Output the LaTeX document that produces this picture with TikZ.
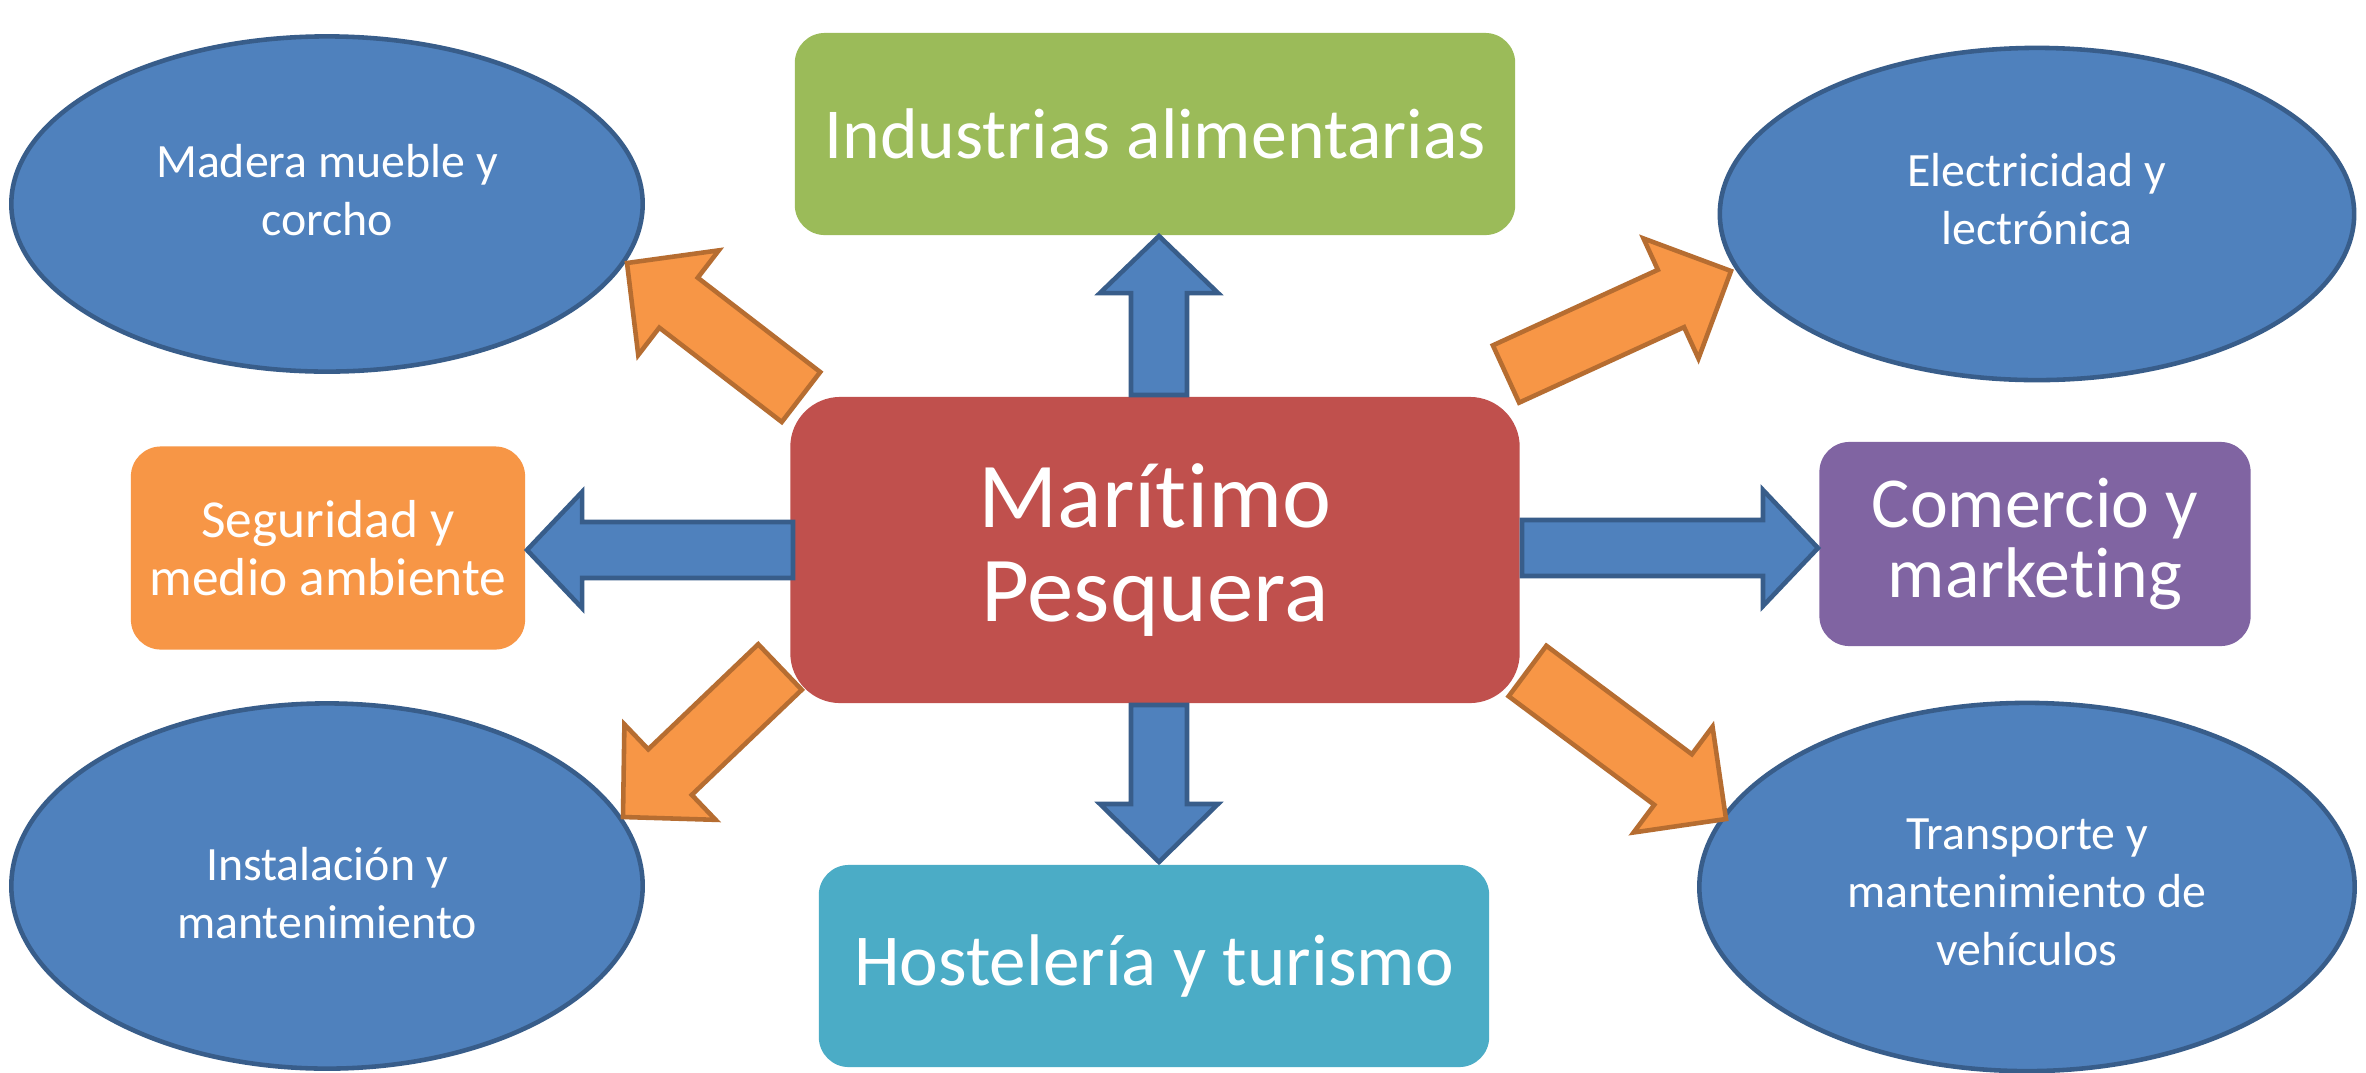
\documentclass[tikz,border=0pt]{standalone}
\usepackage{fontspec}
\setmainfont{Carlito}[Ligatures={NoCommon}]
\usetikzlibrary{shapes.geometric,calc}
\definecolor{eblue}{HTML}{4F81BD}
\definecolor{eblueline}{HTML}{385D8A}
\definecolor{oran}{HTML}{F79646}
\definecolor{oranline}{HTML}{B66D31}
\definecolor{cred}{HTML}{C0504D}
\definecolor{cgreen}{HTML}{9BBB59}
\definecolor{ccyan}{HTML}{4BACC6}
\definecolor{cpurple}{HTML}{8064A2}
% block arrow: style, tail, tip, shaft half width, head half width, head length
\newcommand{\blockarr}[6]{%
  \coordinate (bh) at ($(#3)!#6!(#2)$);
  \draw[#1] ($(#2)!#4!90:(#3)$) -- ($(bh)!#4!90:(#3)$) -- ($(bh)!#5!90:(#3)$) -- (#3)
    -- ($(bh)!#5!-90:(#3)$) -- ($(bh)!#4!-90:(#3)$) -- ($(#2)!#4!-90:(#3)$) -- cycle;
}
\begin{document}
\begin{tikzpicture}[x=0.01cm,y=-0.01cm,
  oval/.style={ellipse, draw=eblueline, fill=eblue, line width=1.3pt, inner sep=0pt},
  ovaltext/.style={text=white, align=center, inner sep=0pt, font=\fontsize{13.6}{16.5}\selectfont},
  rbox/.style={rectangle, rounded corners=0.3cm, inner sep=0pt, text=white, align=center},
  bluearr/.style={fill=eblue, draw=eblueline, line width=1.3pt, line join=miter},
  orarr/.style={fill=oran, draw=oranline, line width=1.3pt, line join=miter}]
\useasboundingbox (0,0) rectangle (2366,1072);
\fill[white] (0,0) rectangle (2366,1072);

% ellipses
\node[oval, minimum width=6.31cm, minimum height=3.35cm] (madera) at (327,204) {};
\node[ovaltext] (maderaT) at (327,190) {Madera mueble y\\corcho};
\node[oval, minimum width=6.34cm, minimum height=3.32cm] (elec) at (2037,214) {};
\node[ovaltext] (elecT) at (2037,199) {Electricidad y\\lectrónica};
\node[oval, minimum width=6.31cm, minimum height=3.65cm] (inst) at (327,886) {};
\node[ovaltext] (instT) at (327,893) {Instalación y\\mantenimiento};
\node[oval, minimum width=6.55cm, minimum height=3.68cm] (trans) at (2027,887) {};
\node[ovaltext] (transT) at (2027,892) {Transporte y\\mantenimiento de\\vehículos};

% boxes
\node[rbox, fill=cgreen, minimum width=7.20cm, minimum height=2.02cm,
  font=\fontsize{20.4}{22}\selectfont] (ind) at (1155,134) {Industrias alimentarias};
\node[rbox, fill=ccyan, minimum width=6.70cm, minimum height=2.02cm,
  font=\fontsize{20.8}{22}\selectfont] (host) at (1154,966) {Hostelería y turismo};
\node[rbox, fill=oran, minimum width=3.94cm, minimum height=2.03cm,
  font=\fontsize{15.2}{16.3}\selectfont] (seg) at (328,548) {Seguridad y\\medio ambiente};
\node[rbox, fill=cpurple, minimum width=4.31cm, minimum height=2.04cm,
  font=\fontsize{20.4}{19.7}\selectfont] (com) at (2035,544) {Comercio y\\market\kern0pt ing};
\node[rbox, rounded corners=0.5cm, fill=cred, minimum width=7.29cm, minimum height=3.06cm,
  font=\fontsize{26.4}{26.6}\selectfont] (mar) at (1155,550) {Marít\kern0pt imo\\Pesquera};

% arrow end points
\coordinate (upT) at (1159,395);  \coordinate (upH) at (1159,236);
\coordinate (dnT) at (1159,705);  \coordinate (dnH) at (1159,862);
\coordinate (lfT) at (793,550);   \coordinate (lfH) at (527,550);
\coordinate (rtT) at (1522,548);  \coordinate (rtH) at (1818,548);
\coordinate (ulT) at (801,397);   \coordinate (ulH) at (627,263);
\coordinate (urT) at (1506,374);  \coordinate (urH) at (1731,271);
\coordinate (llT) at (780,667);   \coordinate (llH) at (623,817);
\coordinate (lrT) at (1527.5,671);\coordinate (lrH) at (1726,819);

% blue arrows
\blockarr{bluearr}{upT}{upH}{0.28cm}{0.59cm}{0.57cm}
\blockarr{bluearr}{dnT}{dnH}{0.28cm}{0.59cm}{0.58cm}
\blockarr{bluearr}{lfT}{lfH}{0.28cm}{0.58cm}{0.55cm}
\blockarr{bluearr}{rtT}{rtH}{0.28cm}{0.58cm}{0.55cm}
% orange arrows
\blockarr{orarr}{ulT}{ulH}{0.315cm}{0.66cm}{0.65cm}
\blockarr{orarr}{urT}{urH}{0.315cm}{0.66cm}{0.66cm}
\blockarr{orarr}{llT}{llH}{0.315cm}{0.66cm}{0.65cm}
\blockarr{orarr}{lrT}{lrH}{0.315cm}{0.66cm}{0.66cm}
\end{tikzpicture}
\end{document}
